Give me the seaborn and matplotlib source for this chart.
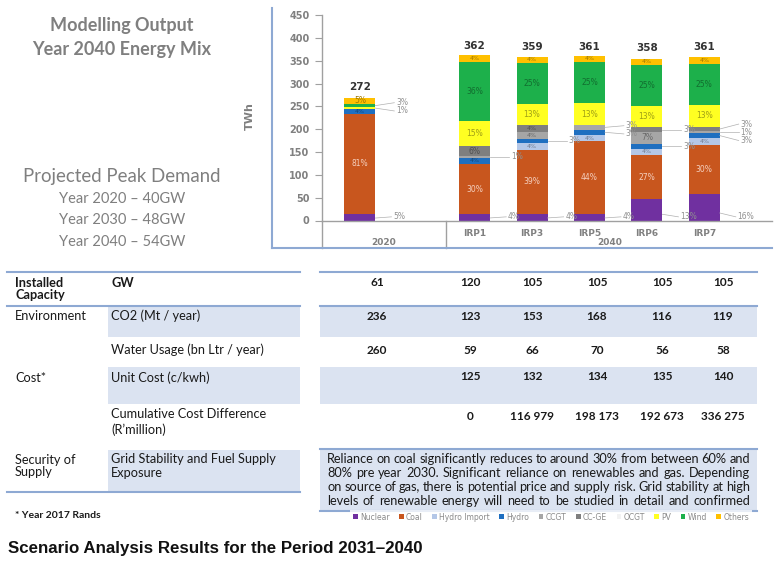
import pandas as pd
import matplotlib
matplotlib.use('Agg')
import matplotlib.pyplot as plt
import matplotlib.transforms as mtrans
from matplotlib.patches import Rectangle, Patch
from matplotlib.lines import Line2D
import seaborn as sns

# ---- chart data (share of TWh in %, per scenario) ----
scenarios = ['2020', 'IRP1', 'IRP3', 'IRP5', 'IRP6', 'IRP7']
slots = ['2020', ' ', 'IRP1', 'IRP3', 'IRP5', 'IRP6', 'IRP7']
totals = [272, 362, 359, 361, 358, 361]
sources = ['Nuclear', 'Coal', 'Hydro Import', 'Hydro', 'CCGT', 'CC-GE', 'OCGT', 'PV', 'Wind', 'Others']
colors = ['#7030a0', '#c8561e', '#b4c7e7', '#1f6fc0', '#a6a6a6', '#7f7f7f', '#f2f2f2', '#ffff22', '#1db04b', '#ffc000']

nuclear = [5, 4, 4, 4, 13, 16]
coal = [81, 30, 39, 44, 27, 30]
hydro_import = [0, 0, 4, 4, 4, 4]
hydro = [4, 4, 3, 3, 3, 3]
ccgt = [0, 1, 4, 3, 7, 1]
cc_ge = [0, 6, 4, 0, 3, 3]
ocgt = [0, 0, 0, 0, 0, 0]
pv = [1, 15, 13, 13, 13, 13]
wind = [3, 36, 25, 25, 25, 25]
others = [5, 4, 4, 4, 4, 4]
shares = [nuclear, coal, hydro_import, hydro, ccgt, cc_ge, ocgt, pv, wind, others]

# ---- table data ----
row_groups = ['Installed\nCapacity', 'Environment', '', 'Cost*', '', 'Security of\nSupply']
row_names = ['GW', 'CO2 (Mt / year)', 'Water Usage (bn Ltr / year)', 'Unit Cost (c/kwh)',
             'Cumulative Cost Difference\n(R\u2019million)', 'Grid Stability and Fuel Supply\nExposure']
cap_gw = ['61', '120', '105', '105', '105', '105']
co2 = ['236', '123', '153', '168', '116', '119']
water = ['260', '59', '66', '70', '56', '58']
unit_cost = ['', '125', '132', '134', '135', '140']
cum_cost = ['', '0', '116 979', '198 173', '192 673', '336 275']
supply_note = [
    'Reliance on coal significantly reduces to around 30% from between 60% and',
    '80% pre year 2030. Significant reliance on renewables and gas. Depending',
    'on source of gas, there is potential price and supply risk. Grid stability at high',
    'levels of renewable energy will need to be studied in detail and confirmed',
]

rows = []
for i, sc in enumerate(scenarios):
    for j, src in enumerate(sources):
        rows.append({'scenario': sc, 'source': src, 'pct': shares[j][i],
                     'twh': shares[j][i] * totals[i] / 100})
df = pd.DataFrame(rows)
df['top'] = df.groupby('scenario')['twh'].cumsum()
df['mid'] = df['top'] - df['twh'] / 2

W, H = 782, 567
fig = plt.figure(figsize=(W / 100, H / 100), dpi=100)
fig.patch.set_facecolor('white')


def fx(x):
    return x / W


def fy(y):
    return 1 - y / H


def ftext(x, y, s, **kw):
    kw.setdefault('va', 'center')
    return fig.text(fx(x), fy(y), s, **kw)


def hline(x0, x1, y, color='#8ea9d3', lw=1.5):
    fig.add_artist(Line2D([fx(x0), fx(x1)], [fy(y), fy(y)], transform=fig.transFigure, color=color, lw=lw))


def box(x0, y0, x1, y1, color='#dbe3f1'):
    fig.add_artist(Rectangle((fx(x0), fy(y1)), fx(x1) - fx(x0), fy(y0) - fy(y1),
                             transform=fig.transFigure, facecolor=color, edgecolor='none', zorder=0))


# ---- bar chart ----
ax = fig.add_axes([fx(322), fy(220.5), fx(772) - fx(322), fy(15) - fy(220.5)])
ax.patch.set_alpha(0)
for src, col in reversed(list(zip(sources, colors))):
    sub = df[df['source'] == src]
    sns.barplot(data=sub, x='scenario', y='top', order=slots, color=col, saturation=1,
                width=0.54, errorbar=None, linewidth=0, ax=ax)

ax.set_xlim(-0.66, 7.18)
ax.set_ylim(0, 450)
ax.set_yticks(range(0, 451, 50))
ax.set_xlabel('')
ax.set_ylabel('')
for s in ['top', 'right']:
    ax.spines[s].set_visible(False)
for s in ['left', 'bottom']:
    ax.spines[s].set_color('#a0a0a0')
    ax.spines[s].set_linewidth(1)
ax.tick_params(axis='y', colors='#a0a0a0', labelcolor='#808080', length=5, labelsize=7, pad=4)
for t in ax.get_yticklabels():
    t.set_fontweight('bold')
ax.set_xticks([slots.index(s) for s in scenarios[1:]])
ax.set_xticklabels(scenarios[1:], color='#808080', fontsize=6.5, fontweight='bold')
ax.tick_params(axis='x', length=0, pad=6)

trans = mtrans.blended_transform_factory(ax.transData, ax.transAxes)
for xs in [-0.66, 1.5]:
    ax.plot([xs, xs], [0, -0.134], transform=trans, color='#a0a0a0', lw=1, clip_on=False)
ax.text(0.42, -0.105, '2020', transform=trans, ha='center', va='center', color='#808080', fontsize=6.5, fontweight='bold')
ax.text(4.35, -0.105, '2040', transform=trans, ha='center', va='center', color='#808080', fontsize=6.5, fontweight='bold')

# totals above bars
for sc, tot in zip(scenarios, totals):
    ax.text(slots.index(sc), tot + 9, str(tot), ha='center', va='bottom', fontsize=7.5,
            fontweight='bold', color='#333333')

# percentage labels
for sc in scenarios:
    pos = slots.index(sc)
    sub = df[(df['scenario'] == sc) & (df['pct'] > 0)]
    outside = []
    for _, r in sub.iterrows():
        col = colors[sources.index(r['source'])]
        if r['source'] == 'Nuclear':
            ax.plot([pos + 0.27, pos + 0.55], [r['mid'] / 2 + 2, 8], color='#b0b0b0', lw=0.5)
            ax.text(pos + 0.58, 8, f"{r['pct']}%", fontsize=5.5, color='#909090', va='center')
        elif r['pct'] <= 3:
            outside.append((r['mid'], r['pct']))
        else:
            if r['source'] == 'Coal':
                tc = '#f5d0bf'
            else:
                rgb = matplotlib.colors.to_rgb(col)
                tc = tuple(c * 0.62 for c in rgb)
            size = 5.5 if r['pct'] >= 5 else 4.5
            ax.text(pos, r['mid'], f"{r['pct']}%", ha='center', va='center', fontsize=size, color=tc)
    if outside:
        ys = [m for m, _ in outside]
        center = sum(ys) / len(ys)
        gap = 18
        if max(ys) - min(ys) < gap * (len(ys) - 1):
            ys = [center - gap * (k - (len(ys) - 1) / 2) for k in range(len(ys))][::-1]
        for (m, p), yl in zip(outside, ys):
            ax.plot([pos + 0.27, pos + 0.6], [m, yl], color='#b0b0b0', lw=0.5)
            ax.text(pos + 0.63, yl, f"{p}%", fontsize=5.5, color='#909090', va='center')

# chart frame
fig.add_artist(Line2D([fx(272), fx(272)], [fy(8), fy(248)], transform=fig.transFigure, color='#8ea9d3', lw=1.5))
hline(272, 772, 248)
ftext(250, 116, 'TWh', rotation=90, ha='center', color='#808080', fontsize=8, fontweight='bold')

# left heading texts
grey = '#7f7f7f'
ftext(122, 25, 'Modelling Output', ha='center', color=grey, fontsize=13, fontweight='bold', family='Lato')
ftext(122, 50, 'Year 2040 Energy Mix', ha='center', color=grey, fontsize=13, fontweight='bold', family='Lato')
ftext(122, 177, 'Projected Peak Demand', ha='center', color=grey, fontsize=13.4, family='Lato')
for k, txt in enumerate(['Year 2020 \u2013 40GW', 'Year 2030 \u2013 48GW', 'Year 2040 \u2013 54GW']):
    ftext(122, 199 + k * 21.5, txt, ha='center', color=grey, fontsize=10.5, family='Lato')

# ---- table ----
ink = '#1a1a1a'
fs = 9.2
box(108, 306, 300, 337)
box(320, 306, 757, 337)
box(108, 367, 300, 404)
box(320, 367, 757, 404)
box(108, 450, 300, 492)
box(320, 449, 757, 510)
hline(7, 300, 272)
hline(320, 757, 272)
hline(7, 300, 306)
hline(320, 757, 306)
hline(320, 757, 449)
hline(7, 300, 492)
hline(320, 757, 511)

group_y = [289, 316, 350, 378, 420, 466]
name_y = [283, 316, 350, 378, 422, 466]
for k, (g, n) in enumerate(zip(row_groups, row_names)):
    bold = 'bold' if k == 0 else 'normal'
    ftext(15, group_y[k], g, ha='left', fontsize=fs, color=ink, fontweight=bold,
          family='Lato', linespacing=1.05)
    ftext(111, name_y[k], n, ha='left', fontsize=fs, color=ink, fontweight=bold, family='Lato', linespacing=1.25)

col_x = [377, 470, 532, 597, 662, 723]
value_rows = [cap_gw, co2, water, unit_cost, cum_cost]
value_y = [283, 316, 350, 377, 416]
for vals, vy in zip(value_rows, value_y):
    for cx, v in zip(col_x, vals):
        if v:
            ftext(cx, vy, v, ha='center', fontsize=8.5, color=ink, fontweight='bold', family='Lato')

# justified note in the security row
renderer = fig.canvas.get_renderer()
for k, line in enumerate(supply_note):
    words = line.split()
    arts = [ftext(0, 459 + k * 14, w, ha='left', fontsize=fs, color=ink, family='Lato') for w in words]
    widths = [a.get_window_extent(renderer).width for a in arts]
    gap = (750 - 327 - sum(widths)) / (len(words) - 1)
    x = 327
    for a, wd in zip(arts, widths):
        a.set_x(fx(x))
        x += wd + gap

ftext(15, 515, '* Year 2017 Rands', ha='left', fontsize=7.5, color=ink, fontweight='bold', family='Lato')

handles = [Patch(facecolor=c, edgecolor='none') for c in colors]
leg = fig.legend(handles, sources, loc='center', bbox_to_anchor=(fx(551), fy(517)), ncol=10,
                 fontsize=5.5, frameon=True, fancybox=False, handlelength=0.6, handleheight=0.6,
                 handletextpad=0.3, columnspacing=1.25, borderpad=0.35, labelcolor='#8a8a8a')
leg.get_frame().set_facecolor('white')
leg.get_frame().set_edgecolor('none')

ftext(8, 549, 'Scenario Analysis Results for the Period 2031\u20132040', ha='left', fontsize=12.2,
      fontweight='bold', color='#111111', family='Liberation Sans')

fig.savefig('out.png', dpi=100)
